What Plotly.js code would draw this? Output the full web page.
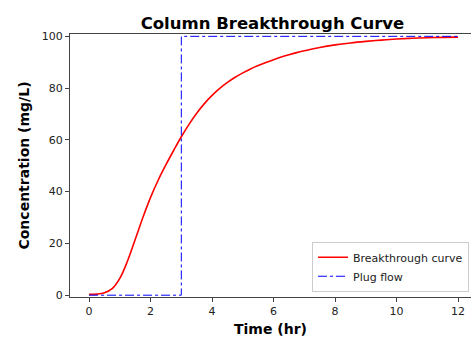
<!DOCTYPE html>
<html>
<head>
<meta charset="utf-8">
<script src="https://cdn.plot.ly/plotly-3.0.1.min.js"></script>
<style>html,body{margin:0;padding:0;background:#fff;}#chart{width:471px;height:337px;}</style>
</head>
<body>
<div id="chart"></div>
<script>
const timeHr = [0, 0.25, 0.5, 0.75, 1.0, 1.25, 1.5, 1.75, 2.0, 2.25, 2.5, 2.75, 3.0, 3.25, 3.5, 3.75, 4.0, 4.25, 4.5, 4.75, 5.0, 5.25, 5.5, 5.75, 6.0, 6.25, 6.5, 6.75, 7.0, 7.5, 8.0, 8.5, 9.0, 9.5, 10.0, 10.5, 11.0, 11.5, 12.0];
const breakthroughConc = [0.3, 0.4, 0.9, 2.5, 6.5, 13.2, 21.5, 30.0, 37.8, 44.5, 50.4, 55.9, 61.2, 66.0, 70.3, 74.0, 77.2, 79.9, 82.2, 84.2, 85.9, 87.4, 88.7, 89.9, 91.0, 92.0, 92.9, 93.7, 94.4, 95.7, 96.7, 97.45, 98.05, 98.55, 98.95, 99.25, 99.45, 99.6, 99.7];
const plugTime = [0, 3, 3, 12];
const plugConc = [0, 0, 100, 100];
const xTicks = [0, 2, 4, 6, 8, 10, 12];
const yTicks = [0, 20, 40, 60, 80, 100];

const font = "DejaVu Sans, sans-serif";
const traces = [
  {x: timeHr, y: breakthroughConc, type: 'scatter', mode: 'lines', name: 'Breakthrough curve',
   line: {color: '#ff0000', width: 1.6, shape: 'spline', smoothing: 1}},
  {x: plugTime, y: plugConc, type: 'scatter', mode: 'lines', name: 'Plug flow',
   line: {color: '#0000ff', width: 1, dash: 'dashdot'}}
];
const layout = {
  width: 471, height: 337,
  margin: {l: 70, r: 0, t: 34, b: 40},
  paper_bgcolor: '#fff', plot_bgcolor: '#fff',
  font: {family: font, color: '#222', size: 10},
  title: {text: '<b>Column Breakthrough Curve</b>', font: {family: font, size: 16.5, color: '#000'},
          x: 0.505, xref: 'paper', y: 1, yref: 'paper', yanchor: 'bottom', pad: {b: 5}},
  xaxis: {range: [-0.62, 12.42], tickvals: xTicks, ticktext: xTicks.map(String),
          showgrid: false, zeroline: false, showline: true, mirror: true, linecolor: '#444', linewidth: 1,
          ticks: 'outside', ticklen: 4, tickcolor: '#444', tickfont: {size: 11, family: font, color: '#222'},
          title: {text: '<b>Time (hr)</b>', font: {family: font, size: 14, color: '#000'}, standoff: 6}},
  yaxis: {range: [-0.7, 100.9], tickvals: yTicks, ticktext: yTicks.map(String),
          showgrid: false, zeroline: false, showline: true, mirror: false, linecolor: '#444', linewidth: 1,
          ticks: 'outside', ticklen: 4, tickcolor: '#444', tickfont: {size: 11, family: font, color: '#222'},
          title: {text: '<b>Concentration (mg/L)</b>', font: {family: font, size: 14, color: '#000'}, standoff: 8}},
  legend: {x: 0.995, xanchor: 'right', y: 0.02, yanchor: 'bottom', bgcolor: '#fff', bordercolor: '#ccc', borderwidth: 1,
           font: {family: font, size: 11, color: '#222'}, tracegroupgap: 0},
  showlegend: true
};
Plotly.newPlot('chart', traces, layout, {displayModeBar: false, staticPlot: true});
</script>
</body>
</html>
